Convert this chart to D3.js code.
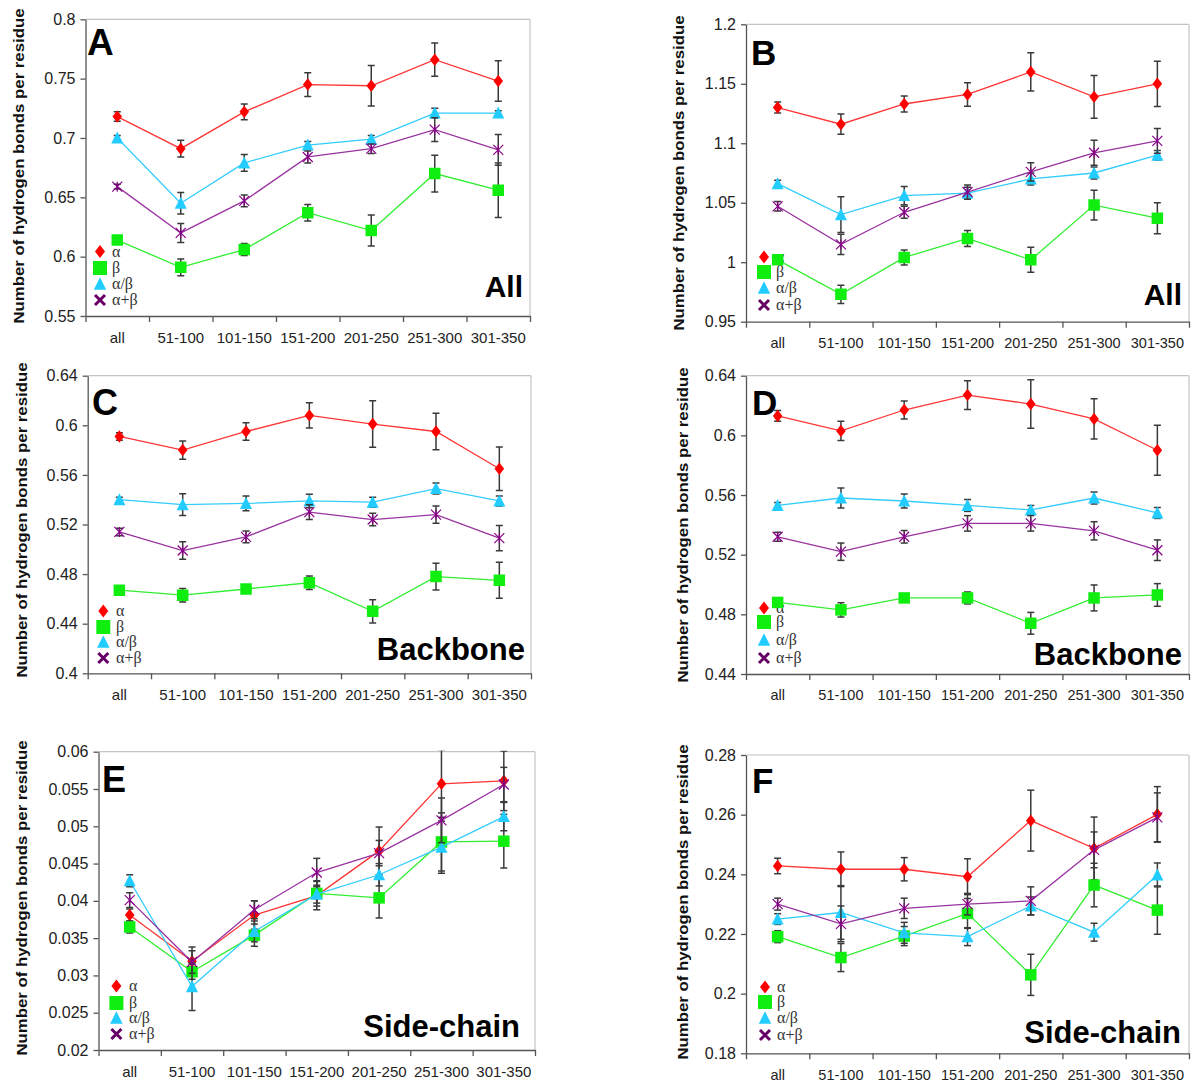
<!DOCTYPE html>
<html><head><meta charset="utf-8">
<script src="https://cdn.jsdelivr.net/npm/d3@7"></script>
<style>
body{margin:0;background:#fff;}
svg{display:block;}
text{font-family:"Liberation Sans",Arial,sans-serif;}
</style></head>
<body>
<svg id="chart" width="1192" height="1084"></svg>
<script>
// ---------------- DATA ----------------
const categories = ["all","51-100","101-150","151-200","201-250","251-300","301-350"];
const seriesNames = ["α","β","α/β","α+β"];

// Panel A (All)
const A_alpha = [0.718,0.691,0.722,0.745,0.744,0.766,0.748];
const A_alpha_err = [0.004,0.007,0.0066,0.010,0.017,0.014,0.017];
const A_beta = [0.614,0.591,0.606,0.637,0.622,0.670,0.656];
const A_beta_err = [0.002,0.007,0.005,0.007,0.013,0.0155,0.023];
const A_ab = [0.700,0.645,0.679,0.694,0.699,0.721,0.721];
const A_ab_err = [0.002,0.009,0.007,0.003,0.003,0.004,0.002];
const A_apb = [0.659,0.620,0.647,0.684,0.691,0.707,0.690];
const A_apb_err = [0.002,0.008,0.005,0.005,0.004,0.010,0.013];
const A_yticks = ["0.55","0.6","0.65","0.7","0.75","0.8"];

// Panel B (All)
const B_alpha = [1.130,1.116,1.133,1.141,1.160,1.139,1.150];
const B_alpha_err = [0.0046,0.0085,0.0067,0.0098,0.016,0.018,0.019];
const B_beta = [1.002,0.973,1.004,1.020,1.002,1.048,1.037];
const B_beta_err = [0.002,0.0076,0.0063,0.0067,0.0105,0.0126,0.013];
const B_ab = [1.066,1.040,1.056,1.058,1.070,1.075,1.090];
const B_ab_err = [0.003,0.015,0.0077,0.005,0.005,0.005,0.004];
const B_apb = [1.047,1.015,1.042,1.059,1.076,1.092,1.102];
const B_apb_err = [0.004,0.0085,0.005,0.006,0.0077,0.0105,0.0105];
const B_yticks = ["0.95","1","1.05","1.1","1.15","1.2"];

// Panel C (Backbone)
const C_alpha = [0.591,0.580,0.595,0.608,0.601,0.595,0.565];
const C_alpha_err = [0.003,0.0073,0.007,0.0102,0.0188,0.0148,0.0176];
const C_beta = [0.467,0.463,0.468,0.473,0.450,0.478,0.475];
const C_beta_err = [0.002,0.0054,0.002,0.0054,0.0094,0.0108,0.0145];
const C_ab = [0.540,0.536,0.537,0.539,0.538,0.549,0.539];
const C_ab_err = [0.002,0.0087,0.006,0.0054,0.004,0.0044,0.004];
const C_apb = [0.514,0.499,0.510,0.530,0.524,0.528,0.509];
const C_apb_err = [0.003,0.0071,0.0047,0.0059,0.005,0.007,0.0102];
const C_yticks = ["0.4","0.44","0.48","0.52","0.56","0.6","0.64"];

// Panel D (Backbone)
const D_alpha = [0.613,0.603,0.617,0.627,0.621,0.611,0.590];
const D_alpha_err = [0.0036,0.0065,0.006,0.0096,0.0163,0.0135,0.0168];
const D_beta = [0.488,0.483,0.491,0.491,0.474,0.491,0.493];
const D_beta_err = [0.002,0.0048,0.002,0.004,0.0073,0.0087,0.0076];
const D_ab = [0.553,0.558,0.556,0.553,0.550,0.558,0.548];
const D_ab_err = [0.002,0.0067,0.0047,0.004,0.003,0.004,0.0037];
const D_apb = [0.532,0.522,0.532,0.541,0.541,0.536,0.523];
const D_apb_err = [0.003,0.0058,0.0042,0.0052,0.0052,0.0061,0.0069];
const D_yticks = ["0.44","0.48","0.52","0.56","0.6","0.64"];

// Panel E (Side-chain)
const E_alpha = [0.0381,0.0319,0.0381,0.0407,0.0467,0.0557,0.0561];
const E_alpha_err = [0.0008,0.0019,0.0019,0.0019,0.0032,0.0045,0.0040];
const E_beta = [0.0365,0.0305,0.0354,0.0410,0.0404,0.0479,0.0480];
const E_beta_err = [0.0008,0.0010,0.0015,0.0017,0.0027,0.0039,0.0036];
const E_ab = [0.0427,0.0285,0.0359,0.0409,0.0435,0.0472,0.0513];
const E_ab_err = [0.0008,0.0032,0.0014,0.0012,0.0015,0.0035,0.0019];
const E_apb = [0.0401,0.0318,0.0388,0.0438,0.0464,0.0508,0.0556];
const E_apb_err = [0.0010,0.0015,0.0012,0.0019,0.0017,0.0030,0.0023];
const E_yticks = ["0.02","0.025","0.03","0.035","0.04","0.045","0.05","0.055","0.06"];

// Panel F (Side-chain)
const F_alpha = [0.2428,0.2417,0.2417,0.2392,0.2580,0.2487,0.2601];
const F_alpha_err = [0.0026,0.0058,0.0039,0.0060,0.0102,0.0105,0.0093];
const F_beta = [0.2191,0.2121,0.2193,0.2269,0.2063,0.2364,0.2280];
const F_beta_err = [0.0020,0.0047,0.0032,0.0050,0.0069,0.0073,0.0081];
const F_ab = [0.2250,0.2272,0.2204,0.2191,0.2294,0.2206,0.2398];
const F_ab_err = [0.0018,0.0090,0.0035,0.0030,0.0030,0.0030,0.0040];
const F_apb = [0.2300,0.2234,0.2286,0.2300,0.2311,0.2482,0.2591];
const F_apb_err = [0.0020,0.0060,0.0034,0.0036,0.0047,0.0060,0.0082];
const F_yticks = ["0.18","0.2","0.22","0.24","0.26","0.28"];

const yTitle = "Number of hydrogen bonds per residue";

// ---------------- LAYOUT & STYLE ----------------
const panels = [
  {letter:"A", caption:"All", series:[[A_alpha,A_alpha_err],[A_beta,A_beta_err],[A_ab,A_ab_err],[A_apb,A_apb_err]], yticks:A_yticks,
   x0:85.5, x1:530, yTop:19.3, yBot:316, titleX:19, titleY:166, capRight:523, capBase:297, capSize:30,
   letX:87, letBase:55, letSize:37, legX:100, legY:[251.5,268,284,300], legTx:112, xFs:15, yFs:16},
  {letter:"B", caption:"All", series:[[B_alpha,B_alpha_err],[B_beta,B_beta_err],[B_ab,B_ab_err],[B_apb,B_apb_err]], yticks:B_yticks,
   x0:746, x1:1189, yTop:24.3, yBot:321.7, titleX:679, titleY:173, capRight:1182, capBase:305, capSize:30,
   letX:751, letBase:65, letSize:35, legX:764, legY:[257,272,288,305], legTx:776, xFs:14.5, yFs:16},
  {letter:"C", caption:"Backbone", series:[[C_alpha,C_alpha_err],[C_beta,C_beta_err],[C_ab,C_ab_err],[C_apb,C_apb_err]], yticks:C_yticks,
   x0:87.7, x1:531, yTop:375.7, yBot:673.3, titleX:22, titleY:520, capRight:525, capBase:660, capSize:31,
   letX:92, letBase:415, letSize:36, legX:103.3, legY:[611,627,642,658], legTx:116, xFs:15, yFs:16},
  {letter:"D", caption:"Backbone", series:[[D_alpha,D_alpha_err],[D_beta,D_beta_err],[D_ab,D_ab_err],[D_apb,D_apb_err]], yticks:D_yticks,
   x0:746, x1:1189, yTop:375.7, yBot:674, titleX:683, titleY:525, capRight:1182, capBase:665, capSize:31,
   letX:752, letBase:415, letSize:35, legX:764, legY:[608,622,640,658], legTx:776, xFs:14.5, yFs:16},
  {letter:"E", caption:"Side-chain", series:[[E_alpha,E_alpha_err],[E_beta,E_beta_err],[E_ab,E_ab_err],[E_apb,E_apb_err]], yticks:E_yticks,
   x0:98.5, x1:535, yTop:751.7, yBot:1050, titleX:22, titleY:898, capRight:520, capBase:1037, capSize:31,
   letX:102, letBase:792, letSize:36, legX:116.4, legY:[986,1003,1018,1034], legTx:129, xFs:15, yFs:16},
  {letter:"F", caption:"Side-chain", series:[[F_alpha,F_alpha_err],[F_beta,F_beta_err],[F_ab,F_ab_err],[F_apb,F_apb_err]], yticks:F_yticks,
   x0:746, x1:1189, yTop:755, yBot:1053.3, titleX:683, titleY:902, capRight:1181, capBase:1043, capSize:31,
   letX:752, letBase:793, letSize:35, legX:765, legY:[987,1002,1018,1035], legTx:777, xFs:14.5, yFs:16}
];

const styles = [
  {shape:"diamond", fill:"#ff0000", line:"#ff3535"},
  {shape:"square",  fill:"#10ee10", line:"#30ee30"},
  {shape:"triangle",fill:"#22ccff", line:"#33ccff"},
  {shape:"star",    fill:"#880088", line:"#9933a0"}
];

function markerPath(shape, s){
  if(shape==="diamond"){const w=s*0.4,h=s*0.52;return `M0,${-h}L${w},0L0,${h}L${-w},0Z`;}
  if(shape==="square"){const h=s/2;return `M${-h},${-h}H${h}V${h}H${-h}Z`;}
  if(shape==="triangle"){const w=s*0.5,h=s*0.46;return `M0,${-h-1}L${w},${h}L${-w},${h}Z`;}
  if(shape==="star"){const h=s/2;return `M${-h},${-h}L${h},${h}M${h},${-h}L${-h},${h}M0,${-h}L0,${h}`;}
  if(shape==="x"){const h=s/2;return `M${-h},${-h}L${h},${h}M${h},${-h}L${-h},${h}`;}
}

const svg = d3.select("#chart");

panels.forEach(p=>{
  const g = svg.append("g");
  const tickVals = p.yticks.map(Number);
  const y = d3.scaleLinear().domain([tickVals[0], tickVals[tickVals.length-1]]).range([p.yBot, p.yTop]);
  const xb = d3.scaleBand().domain(categories).range([p.x0, p.x1]).padding(0);
  const xl = d3.scaleLinear().domain([0, categories.length]).range([p.x0, p.x1]);
  const cx = c => xb(c) + xb.bandwidth()/2;

  g.append("line").attr("x1",p.x0).attr("x2",p.x1).attr("y1",p.yTop).attr("y2",p.yTop).attr("stroke","#c4c4c4").attr("stroke-width",1.2);
  g.append("line").attr("x1",p.x1).attr("x2",p.x1).attr("y1",p.yTop).attr("y2",p.yBot).attr("stroke","#c4c4c4").attr("stroke-width",1.2);

  const ya = g.append("g").attr("transform",`translate(${p.x0},0)`)
    .call(d3.axisLeft(y).tickValues(tickVals).tickFormat((d,i)=>p.yticks[i]).tickSize(5).tickSizeOuter(0).tickPadding(5));
  ya.selectAll("path,line").attr("stroke","#555").attr("stroke-width",1.3);
  ya.selectAll("text").attr("font-size",p.yFs).attr("fill","#222").style("font-family","'Liberation Sans',Arial,sans-serif");

  const xa = g.append("g").attr("transform",`translate(0,${p.yBot})`)
    .call(d3.axisBottom(xl).tickValues(d3.range(categories.length+1)).tickFormat("").tickSize(6).tickSizeOuter(0));
  xa.selectAll("path,line").attr("stroke","#555").attr("stroke-width",1.3);
  const xa2 = g.append("g").attr("transform",`translate(0,${p.yBot})`)
    .call(d3.axisBottom(xb).tickSize(0).tickPadding(16));
  xa2.select("path").remove();
  xa2.selectAll("text").attr("font-size",p.xFs).attr("fill","#222").style("font-family","'Liberation Sans',Arial,sans-serif");

  g.append("text").attr("transform",`translate(${p.titleX+5},${p.titleY}) rotate(-90)`)
    .attr("text-anchor","middle").attr("font-size",14).attr("font-weight","bold").attr("fill","#111")
    .attr("textLength",315).attr("lengthAdjust","spacingAndGlyphs").text(yTitle);

  g.append("text").attr("x",p.letX).attr("y",p.letBase).attr("font-size",p.letSize).attr("font-weight","bold").attr("fill","#000").text(p.letter);
  g.append("text").attr("x",p.capRight).attr("y",p.capBase).attr("text-anchor","end").attr("font-size",p.capSize).attr("font-weight","bold").attr("fill","#000").text(p.caption);

  seriesNames.forEach((nm,i)=>{
    const st = styles[i];
    const ly = p.legY[i];
    const lg = g.append("g").attr("transform",`translate(${p.legX},${ly})`);
    if(st.shape==="diamond") lg.append("path").attr("d",markerPath("diamond",12.5)).attr("fill",st.fill);
    if(st.shape==="square") lg.append("path").attr("d",markerPath("square",14)).attr("fill",st.fill);
    if(st.shape==="triangle") lg.append("path").attr("d",markerPath("triangle",12.5)).attr("fill",st.fill);
    if(st.shape==="star") lg.append("path").attr("d",markerPath("x",10)).attr("fill","none").attr("stroke","#660066").attr("stroke-width",3);
    g.append("text").attr("x",p.legTx).attr("y",ly+5).attr("font-size",16).attr("fill","#333")
      .style("font-family","'Liberation Serif','Times New Roman',serif").text(nm);
  });

  const clipId = "clip"+p.letter;
  svg.append("clipPath").attr("id",clipId).append("rect").attr("x",p.x0-20).attr("y",p.yTop-1).attr("width",p.x1-p.x0+40).attr("height",p.yBot-p.yTop+2);
  const plot = g.append("g").attr("clip-path",`url(#${clipId})`);

  const line = d3.line().x((d,i)=>cx(categories[i])).y(d=>y(d));
  p.series.forEach(([vals,errs],si)=>{
    const st = styles[si];
    const sg = plot.append("g");
    sg.append("path").attr("d",line(vals)).attr("fill","none").attr("stroke",st.line).attr("stroke-width",1.3);
    vals.forEach((v,i)=>{
      const x = cx(categories[i]);
      const e = errs[i];
      sg.append("line").attr("x1",x).attr("x2",x).attr("y1",y(v-e)).attr("y2",y(v+e)).attr("stroke","#3a3a3a").attr("stroke-width",1.5);
      [v-e,v+e].forEach(b=>{
        sg.append("line").attr("x1",x-3.5).attr("x2",x+3.5).attr("y1",y(b)).attr("y2",y(b)).attr("stroke","#3a3a3a").attr("stroke-width",1.5);
      });
    });
    vals.forEach((v,i)=>{
      const m = sg.append("path").attr("transform",`translate(${cx(categories[i])},${y(v)})`);
      if(st.shape==="diamond") m.attr("d",markerPath("diamond",12)).attr("fill",st.fill);
      if(st.shape==="square") m.attr("d",markerPath("square",11.5)).attr("fill",st.fill);
      if(st.shape==="triangle") m.attr("d",markerPath("triangle",12)).attr("fill",st.fill);
      if(st.shape==="star") m.attr("d",markerPath("star",10)).attr("fill","none").attr("stroke",st.fill).attr("stroke-width",1.2);
    });
  });
});
</script>
</body></html>
